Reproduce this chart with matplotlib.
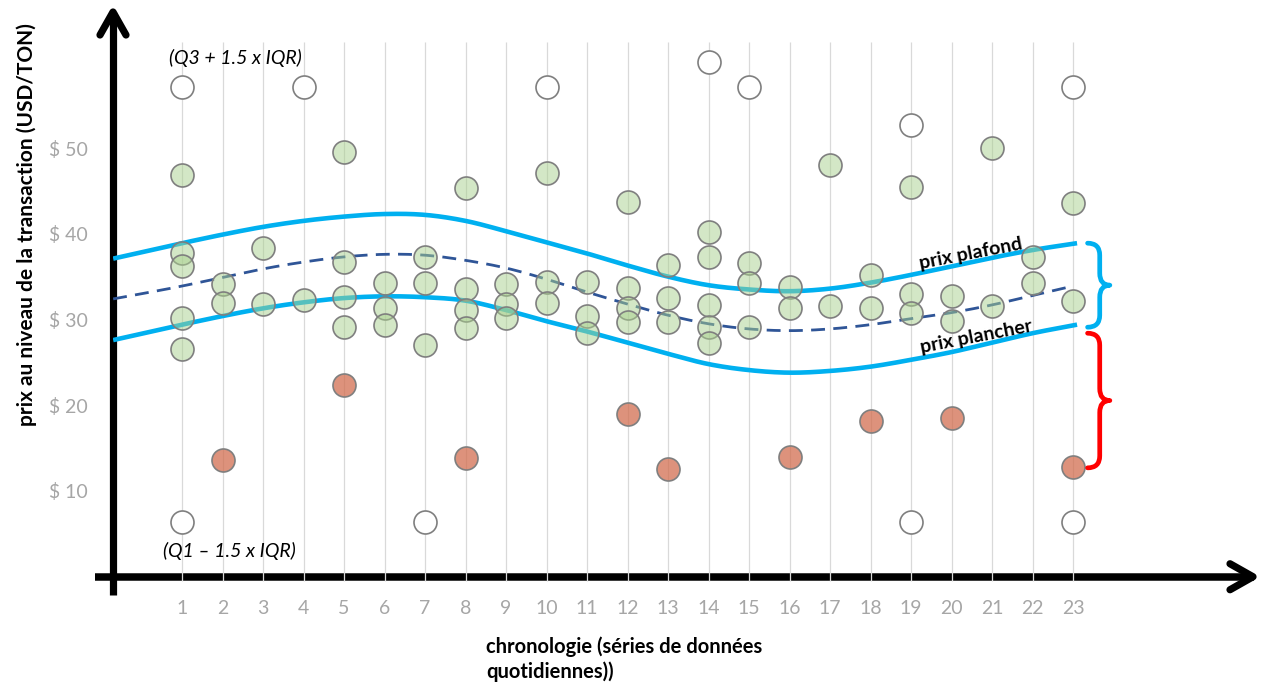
import numpy as np
import matplotlib.pyplot as plt
from matplotlib.path import Path
from matplotlib.patches import PathPatch

plt.rcParams['font.family'] = ['Lato', 'DejaVu Sans']

# axe x : jours, axe y : prix
days = list(range(1, 24))
price_ticks = [10, 20, 30, 40, 50]
price_labels = ['$ 10', '$ 20', '$ 30', '$ 40', '$ 50']

# transactions dans la fourchette normale
green_x = [1, 1, 1, 1, 1, 2, 2, 3, 3, 4, 5, 5, 5, 5, 6, 6, 6, 7, 7, 7,
           8, 8, 8, 8, 9, 9, 9, 10, 10, 10, 11, 11, 11, 12, 12, 12, 12,
           13, 13, 13, 14, 14, 14, 14, 14, 15, 15, 15, 16, 16, 17, 17,
           18, 18, 19, 19, 19, 20, 20, 21, 21, 22, 22, 23, 23]
green_y = [46.9, 37.8, 36.2, 30.2, 26.6, 34.1, 31.9, 38.3, 31.8, 32.3,
           49.5, 36.7, 32.6, 29.1, 34.3, 31.3, 29.4, 37.3, 34.3, 27.0,
           45.3, 33.6, 31.1, 29.0, 34.1, 31.8, 30.2, 47.1, 34.4, 31.9,
           34.4, 30.4, 28.4, 43.7, 33.7, 31.3, 29.7, 36.4, 32.5, 29.7,
           40.2, 37.3, 31.7, 29.1, 27.3, 36.6, 34.3, 29.1, 33.8, 31.3,
           48.0, 31.6, 35.2, 31.3, 45.4, 33.0, 30.8, 32.7, 29.8, 50.0,
           31.6, 37.3, 34.3, 43.6, 32.1]

# transactions sous le prix plancher
red_x = [2, 5, 8, 12, 13, 16, 18, 20, 23]
red_y = [13.6, 22.4, 13.8, 19.0, 12.6, 14.0, 18.2, 18.5, 12.8]

# valeurs hors limites (Q3 + 1.5 IQR / Q1 - 1.5 IQR)
out_x = [1, 4, 10, 14, 15, 19, 23, 1, 7, 19, 23]
out_y = [57.1, 57.1, 57.1, 60.0, 57.1, 52.7, 57.1, 6.4, 6.4, 6.4, 6.4]

# courbes prix plafond / moyenne / plancher
curve_x = [-0.7, 1, 2, 3, 4, 5, 6, 7, 8, 9, 10, 11, 12, 13, 14, 15, 16,
           17, 18, 19, 20, 21, 22, 23.1]
ceiling_y = [37.1, 38.9, 39.9, 40.8, 41.5, 42.0, 42.3, 42.2, 41.5, 40.3,
             39.0, 37.7, 36.3, 35.0, 34.0, 33.5, 33.3, 33.6, 34.3, 35.2,
             36.2, 37.2, 38.1, 38.9]
floor_y = [27.6, 29.4, 30.4, 31.3, 32.0, 32.5, 32.7, 32.6, 32.2, 31.1,
           29.8, 28.6, 27.3, 26.0, 24.8, 24.1, 23.8, 24.0, 24.5, 25.3,
           26.2, 27.3, 28.4, 29.4]
mid_y = [32.4, 33.9, 34.9, 35.9, 36.7, 37.3, 37.6, 37.5, 36.9, 36.0,
         34.7, 33.2, 31.8, 30.5, 29.5, 28.9, 28.7, 28.9, 29.4, 30.1,
         30.8, 31.7, 32.8, 33.9]


def smooth(xk, yk, n=30):
    # lissage type Excel (spline cardinale)
    xk = np.asarray(xk, float)
    yk = np.asarray(yk, float)
    m = np.gradient(yk, xk)
    xs, ys = [], []
    for i in range(len(xk) - 1):
        h = xk[i + 1] - xk[i]
        t = np.linspace(0, 1, n, endpoint=False)
        h00 = 2 * t**3 - 3 * t**2 + 1
        h10 = t**3 - 2 * t**2 + t
        h01 = -2 * t**3 + 3 * t**2
        h11 = t**3 - t**2
        xs.extend(xk[i] + t * h)
        ys.extend(h00 * yk[i] + h10 * h * m[i] + h01 * yk[i + 1] + h11 * h * m[i + 1])
    xs.append(xk[-1])
    ys.append(yk[-1])
    return np.array(xs), np.array(ys)


def brace(ax, x_end, x_spine, x_tip, y_bot, y_top, r, color):
    y_mid = (y_bot + y_top) / 2
    verts = [(x_end, y_top), (x_spine, y_top), (x_spine, y_top - r),
             (x_spine, y_mid + r), (x_spine, y_mid), (x_tip, y_mid),
             (x_spine, y_mid), (x_spine, y_mid - r),
             (x_spine, y_bot + r), (x_spine, y_bot), (x_end, y_bot)]
    codes = [Path.MOVETO, Path.CURVE3, Path.CURVE3, Path.LINETO,
             Path.CURVE3, Path.CURVE3, Path.CURVE3, Path.CURVE3,
             Path.LINETO, Path.CURVE3, Path.CURVE3]
    ax.add_patch(PathPatch(Path(verts, codes), facecolor='none', edgecolor=color,
                           lw=3.4, capstyle='round', joinstyle='round', clip_on=False, zorder=5))


W, H = 1266, 682
X0 = (113 - 141.5) / 40.5
XMAX = (1255 - 141.5) / 40.5
YMAX = 10 + (491 - 10) / 8.575
PX_X = 1 / 40.5   # unités x par pixel
PX_Y = 1 / 8.575  # unités y par pixel

fig = plt.figure(figsize=(W / 100, H / 100), dpi=100)
ax = fig.add_axes([113 / W, 1 - 576.75 / H, (1255 - 113) / W, (576.75 - 10) / H])
ax.set_xlim(X0, XMAX)
ax.set_ylim(0, YMAX)
for s in ax.spines.values():
    s.set_visible(False)

ax.set_xticks(days)
ax.set_xticklabels([str(d) for d in days])
ax.set_yticks(price_ticks)
ax.set_yticklabels(price_labels)
ax.tick_params(axis='x', length=0, pad=17, labelsize=14, labelcolor='#a6a6a6')
ax.tick_params(axis='y', length=0, pad=18, labelsize=14, labelcolor='#a6a6a6')

# grille verticale
ax.vlines(days, -4 * PX_Y, 10 + (491 - 42) / 8.575, color='#d9d9d9', lw=0.9, zorder=1, clip_on=False)

# axes flèches
ax.plot([X0, X0], [-18 * PX_Y, YMAX - 1.5 * PX_Y], color='black', lw=5.2,
        solid_capstyle='butt', clip_on=False, zorder=0.5)
ax.plot([X0 - 13 * PX_X, X0, X0 + 13 * PX_X], [YMAX - 25 * PX_Y, YMAX - 2 * PX_Y, YMAX - 25 * PX_Y],
        color='black', lw=5.2, solid_capstyle='round', solid_joinstyle='round', clip_on=False, zorder=0.5)
ax.plot([X0 - 18 * PX_X, XMAX - 1.5 * PX_X], [0, 0], color='black', lw=5.4,
        solid_capstyle='butt', clip_on=False, zorder=0.5)
ax.plot([XMAX - 25 * PX_X, XMAX - 2 * PX_X, XMAX - 25 * PX_X], [13 * PX_Y, 0, -13 * PX_Y],
        color='black', lw=5.2, solid_capstyle='round', solid_joinstyle='round', clip_on=False, zorder=0.5)

# courbes
cx, cy = smooth(curve_x, ceiling_y)
ax.plot(cx, cy, color='#00b0f0', lw=3.3, zorder=3, solid_capstyle='butt')
fx, fy = smooth(curve_x, floor_y)
ax.plot(fx, fy, color='#00b0f0', lw=3.3, zorder=3, solid_capstyle='butt')
mx, my = smooth(curve_x[:-1] + [23.0], mid_y)
ax.plot(mx, my, color='#2f5597', lw=2.0, dashes=(5, 3), zorder=3)

# points
ax.scatter(green_x, green_y, s=274, facecolor=(169 / 255, 209 / 255, 142 / 255, 0.5),
           edgecolor='#7f7f7f', linewidth=1.2, zorder=4)
ax.scatter(red_x, red_y, s=274, facecolor=(210 / 255, 110 / 255, 80 / 255, 0.75),
           edgecolor='#7f7f7f', linewidth=1.2, zorder=4)
ax.scatter(out_x, out_y, s=274, facecolor='white', edgecolor='#7f7f7f', linewidth=1.2, zorder=4)

# accolades
brace(ax, 23.36, 23.66, 23.91, 29.1, 38.9, 1.4, '#00b0f0')
brace(ax, 23.36, 23.66, 23.91, 12.7, 28.4, 1.4, '#ff0000')

# textes
ax.text(2.31, 60.5, '(Q3 + 1.5 x IQR)', style='italic', fontsize=14, ha='center', va='center')
ax.text(2.16, 3.0, '(Q1 \u2013 1.5 x IQR)', style='italic', fontsize=14, ha='center', va='center')
ax.text(20.48, 37.64, 'prix plafond', fontweight='bold', fontsize=14, rotation=11,
        ha='center', va='center', rotation_mode='anchor')
ax.text(20.6, 28.0, 'prix plancher', fontweight='bold', fontsize=14, rotation=11,
        ha='center', va='center', rotation_mode='anchor')

fig.text(27 / W, 1 - 225 / H, 'prix au niveau de la transaction (USD/TON)', rotation=90,
         fontweight='bold', fontsize=15, ha='center', va='center')
fig.text(486 / W, 1 - 636 / H, 'chronologie (séries de données\nquotidiennes))',
         fontweight='bold', fontsize=14.5, ha='left', va='top', linespacing=1.3)

fig.savefig('out.png', dpi=100)
